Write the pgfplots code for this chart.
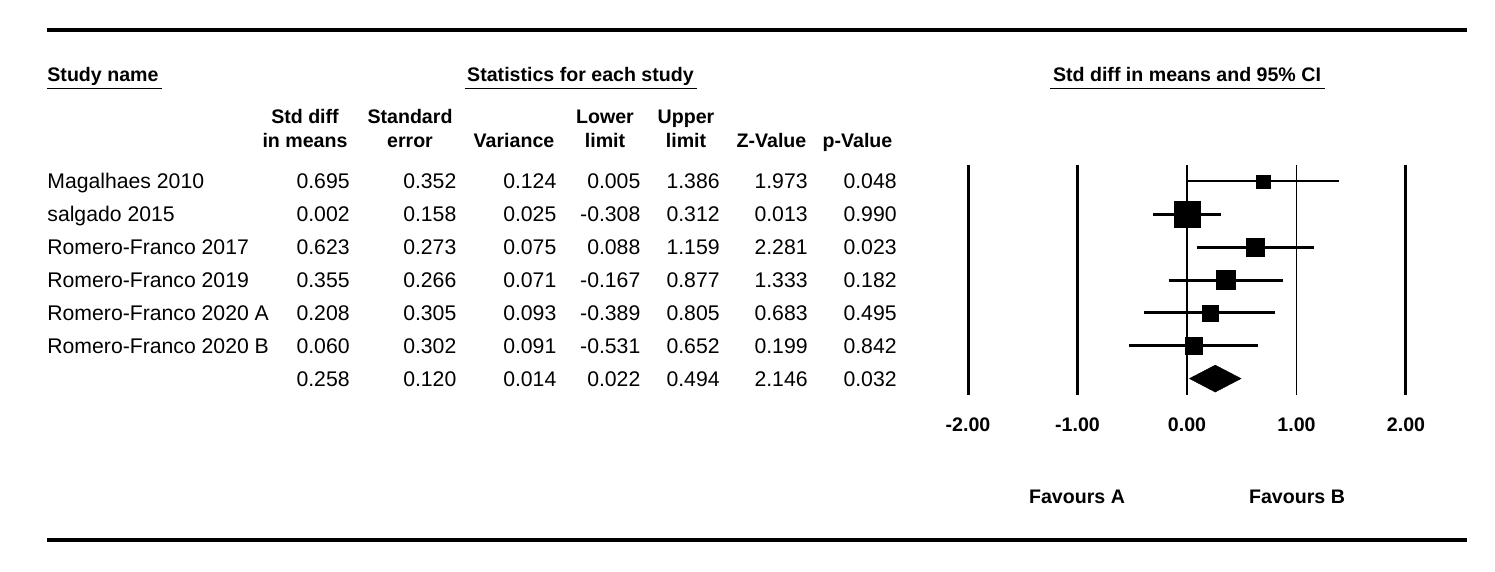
\documentclass[border=0pt]{standalone}
\usepackage{pgfplots}
\pgfplotsset{compat=1.18}
\usepackage{pgfplotstable}
\usepackage{fontspec}
\setmainfont{Liberation Sans}
\newcommand\rf{\fontsize{10.6}{12}\selectfont}
\newcommand\bfs{\bfseries\fontsize{9.8}{11}\selectfont}

\pgfplotstableread{
row est lo hi ms
1 0.695 0.005 1.386 3.37
2 0.002 -0.308 0.312 6.5
3 0.623 0.088 1.159 4.42
4 0.355 -0.167 0.877 4.75
5 0.208 -0.389 0.805 4.0
6 0.060 -0.531 0.652 4.07
}\studies

\begin{document}
\begin{tikzpicture}[x=0.5pt,y=0.5pt]
\useasboundingbox (0,0) rectangle (1495,-572);
% rules
\draw[line width=1.75pt] (47,-30) -- (1467,-30);
\draw[line width=1.75pt] (47,-540) -- (1467,-540);

% headers
\node[anchor=base west,inner sep=0] at (47,-82) {\bfs Study name};
\draw[line width=0.75pt] (47,-88.3) -- (162,-88.3);
\node[anchor=base,inner sep=0] at (580.5,-82) {\bfs Statistics for each study};
\draw[line width=0.75pt] (465,-88.3) -- (697,-88.3);
\node[anchor=base,inner sep=0] at (1187,-82) {\bfs Std diff in means and 95\% CI};
\draw[line width=0.75pt] (1050,-88.3) -- (1325,-88.3);

\foreach \cx/\ta/\tb in {305/Std diff/in means, 410/Standard/error, 605/Lower/limit, 686/Upper/limit}{
  \node[anchor=base,inner sep=0] at (\cx,-123.5) {\bfs \ta};
  \node[anchor=base,inner sep=0] at (\cx,-147.5) {\bfs \tb};
}
\node[anchor=base,inner sep=0] at (514,-147.5) {\bfs Variance};
\node[anchor=base,inner sep=0] at (771.5,-147.5) {\bfs Z-Value};
\node[anchor=base,inner sep=0] at (857.5,-147.5) {\bfs p-Value};

% study names
\foreach \yy/\nm in {189/Magalhaes 2010, 221.9/salgado 2015, 254.8/Romero-Franco 2017, 287.7/Romero-Franco 2019, 320.6/Romero-Franco 2020 A, 353.5/Romero-Franco 2020 B}{
  \node[anchor=base west,inner sep=0] at (47,-\yy) {\rf \nm};
}
% numbers
\foreach \yy/\a/\b/\c/\d/\e/\f/\g in {
189/0.695/0.352/0.124/0.005/1.386/1.973/0.048,
221.9/0.002/0.158/0.025/-0.308/0.312/0.013/0.990,
254.8/0.623/0.273/0.075/0.088/1.159/2.281/0.023,
287.7/0.355/0.266/0.071/-0.167/0.877/1.333/0.182,
320.6/0.208/0.305/0.093/-0.389/0.805/0.683/0.495,
353.5/0.060/0.302/0.091/-0.531/0.652/0.199/0.842,
386.4/0.258/0.120/0.014/0.022/0.494/2.146/0.032}{
  \node[anchor=base east,inner sep=0] at (350,-\yy) {\rf \a};
  \node[anchor=base east,inner sep=0] at (456.7,-\yy) {\rf \b};
  \node[anchor=base east,inner sep=0] at (556.7,-\yy) {\rf \c};
  \node[anchor=base east,inner sep=0] at (640.7,-\yy) {\rf \d};
  \node[anchor=base east,inner sep=0] at (720,-\yy) {\rf \e};
  \node[anchor=base east,inner sep=0] at (808,-\yy) {\rf \f};
  \node[anchor=base east,inner sep=0] at (897,-\yy) {\rf \g};
}

\node[anchor=base,inner sep=0] at (1077,-503.7) {\bfs Favours A};
\node[anchor=base,inner sep=0] at (1297,-503.7) {\bfs Favours B};

\begin{axis}[
  at={(484pt,-197.5pt)}, anchor=south west,
  scale only axis, width=219pt, height=115pt,
  xmin=-2, xmax=2, ymin=0.5, ymax=7.5, y dir=reverse,
  axis line style={draw=none}, major tick length=0pt,
  xtick={-2,-1,0,1,2}, ytick=\empty,
  xticklabel style={font=\bfs, yshift=-8pt},
  /pgf/number format/fixed, /pgf/number format/fixed zerofill,
  /pgf/number format/precision=2, /pgf/number format/assume math mode=true,
  clip=false,
]
\addplot[line width=1.5pt] coordinates {(-2,0.5) (-2,7.5)};
\addplot[line width=1.5pt] coordinates {(-1,0.5) (-1,7.5)};
\addplot[line width=1.5pt] coordinates {(2,0.5) (2,7.5)};
\addplot[line width=0.7pt] coordinates {(0,0.5) (0,7.5)};
\addplot[line width=0.7pt] coordinates {(1,0.5) (1,7.5)};
% confidence intervals
\addplot[line width=1pt] coordinates {(0.005,1) (1.386,1)};
\addplot[line width=1.5pt] coordinates {(-0.308,2) (0.312,2)};
\addplot[line width=1.5pt] coordinates {(0.088,3) (1.159,3)};
\addplot[line width=1.5pt] coordinates {(-0.167,4) (0.877,4)};
\addplot[line width=1.5pt] coordinates {(-0.389,5) (0.805,5)};
\addplot[line width=1.5pt] coordinates {(-0.531,6) (0.652,6)};
% weighted squares
\addplot[scatter, only marks, mark=square*,
  scatter/use mapped color={draw=black, fill=black},
  mark options={line width=0.2pt},
  visualization depends on={\thisrow{ms} \as \msz},
  scatter/@pre marker code/.append style={/tikz/mark size=\msz}]
  table[x=est, y=row] {\studies};
% summary diamond
\addplot[fill=black, draw=black, line width=0.2pt] coordinates {(0.022,7) (0.258,6.59) (0.494,7) (0.258,7.41) (0.022,7)};
\end{axis}
\end{tikzpicture}
\end{document}
